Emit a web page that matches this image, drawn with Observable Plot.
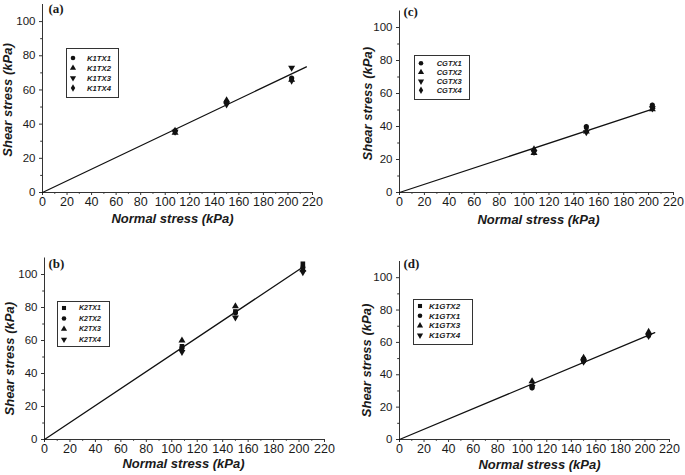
<!DOCTYPE html>
<html><head><meta charset="utf-8">
<script src="https://cdn.jsdelivr.net/npm/d3@7"></script>
<script src="https://cdn.jsdelivr.net/npm/@observablehq/plot@0.6"></script>
<style>
body{margin:0;background:#fff;}
#wrap{position:relative;width:685px;height:475px;overflow:hidden;background:#fff;}
.panel{position:absolute;}
.legend{position:absolute;}
</style></head><body><div id="wrap"></div><script>
// ---- data ----
const normalStress = [108, 150, 203];
const xTicks = [0, 20, 40, 60, 80, 100, 120, 140, 160, 180, 200, 220];
const xMinor = [10, 30, 50, 70, 90, 110, 130, 150, 170, 190, 210];
const yTicks = [0, 20, 40, 60, 80, 100];
const yMinor = [10, 30, 50, 70, 90];

const seriesA = ["K1TX1", "K1TX2", "K1TX3", "K1TX4"];
const symbolsA = ["circle", "triangle", "triangleDown", "diamond"];
const valuesA = [[36, 53, 67], [35, 54, 66], [35.5, 51.5, 73], [36, 52.5, 65.5]];
const fitXA = [0, 215];
const fitYA = [0, 73.5];

const seriesB = ["K2TX1", "K2TX2", "K2TX3", "K2TX4"];
const symbolsB = ["square", "circle", "triangle", "triangleDown"];
const valuesB = [[56.5, 77.6, 106.5], [55.5, 76.8, 104.4], [60, 80.8, 103], [53, 74, 101.4]];
const fitXB = [0, 204];
const fitYB = [0, 105];

const seriesC = ["CGTX1", "CGTX2", "CGTX3", "CGTX4"];
const symbolsC = ["circle", "triangle", "triangleDown", "diamond"];
const valuesC = [[25.5, 40, 53], [24, 37, 50.5], [24.5, 36.5, 51], [26, 39, 52]];
const fitXC = [0, 205];
const fitYC = [0, 51];

const seriesD = ["K1GTX2", "K1GTX1", "K1GTX3", "K1GTX4"];
const symbolsD = ["square", "circle", "triangle", "triangleDown"];
const valuesD = [[33, 49.5, 64.5], [32, 48.5, 65], [36, 50.5, 66.5], [32.5, 48, 64]];
const fitXD = [0, 208];
const fitYD = [0, 66];

const xTitle = "Normal stress (kPa)";
const yTitle = "Shear stress (kPa)";

// ---- symbols ----
const sqrt3 = Math.sqrt(3);
const triangleDown = {draw(ctx, size) {
  const y = -Math.sqrt(size / (sqrt3 * 3));
  ctx.moveTo(0, -y * 2);
  ctx.lineTo(-sqrt3 * y, y);
  ctx.lineTo(sqrt3 * y, y);
  ctx.closePath();
}};
const symbolMap = {
  circle: d3.symbolCircle, triangle: d3.symbolTriangle, triangleDown: triangleDown,
  diamond: d3.symbolDiamond, square: d3.symbolSquare
};

// ---- layout ----
const panels = [
  {letter: "(a)", left: 0, top: 0, width: 340, height: 235, mt: 4, mr: 28, mb: 43, ml: 42,
   series: seriesA, syms: symbolsA, values: valuesA, fitX: fitXA, fitY: fitYA,
   xt: [-5, 30], yt: [-30.5, 1.5], lt: [6, 8],
   lg: {left: 66, top: 48, w: 53, h: 50, sx: 7, tx: 21, y0: 10, dy: 10, fs: 7.7}},
  {letter: "(c)", left: 340, top: 0, width: 345, height: 235, mt: 10.5, mr: 12, mb: 43, ml: 59,
   series: seriesC, syms: symbolsC, values: valuesC, fitX: fitXC, fitY: fitYC,
   xt: [2, 31], yt: [-27.5, 2], lt: [4, 4.5],
   lg: {left: 414, top: 55, w: 56, h: 45, sx: 7, tx: 22.7, y0: 8.3, dy: 9, fs: 7.5}},
  {letter: "(b)", left: 0, top: 235, width: 340, height: 240, mt: 22.5, mr: 16, mb: 36, ml: 44,
   series: seriesB, syms: symbolsB, values: valuesB, fitX: fitXB, fitY: fitYB,
   xt: [-1, 28], yt: [-31, 10], lt: [4, 9.5],
   lg: {left: 57, top: 301, w: 53, h: 46, sx: 7, tx: 22, y0: 7, dy: 10.5, fs: 7}},
  {letter: "(d)", left: 340, top: 235, width: 345, height: 240, mt: 26, mr: 16, mb: 36, ml: 59,
   series: seriesD, syms: symbolsD, values: valuesD, fitX: fitXD, fitY: fitYD,
   xt: [5, 29], yt: [-28.5, 10], lt: [4, 6],
   lg: {left: 413, top: 299, w: 60, h: 46, sx: 7, tx: 16, y0: 7, dy: 9.8, fs: 8}}
];

const wrap = document.getElementById("wrap");
const ink = "#1a1a1a";
const sans = "'Liberation Sans', Arial, sans-serif";

for (const p of panels) {
  const marks = [
    Plot.ruleY([0], {stroke: "#333", strokeWidth: 1}),
    Plot.ruleX([0], {stroke: "#333", strokeWidth: 1}),
    Plot.axisX({ticks: xTicks, tickSize: 3, tickPadding: 2, tickFormat: d => d, label: null, fontSize: 12.5, stroke: "#333"}),
    Plot.axisX({ticks: xMinor, tickSize: 1.8, tickFormat: () => "", label: null, stroke: "#333"}),
    Plot.axisY({ticks: yTicks, tickSize: 3, tickPadding: 4, tickFormat: d => d, label: null, fontSize: 11.5, stroke: "#333"}),
    Plot.axisY({ticks: yMinor, tickSize: 1.8, tickFormat: () => "", label: null, stroke: "#333"}),
    Plot.line(p.fitY, {x: p.fitX, y: p.fitY, stroke: "#111", strokeWidth: 1.3}),
    ...p.values.map((vals, i) => Plot.dot(vals, {
      x: normalStress, y: vals, symbol: symbolMap[p.syms[i]], r: 2.6, fill: "#111", stroke: "none"
    })),
    Plot.text([xTitle], {frameAnchor: "bottom", textAnchor: "middle", lineAnchor: "bottom",
      dx: p.xt[0], dy: p.xt[1], fontSize: 13, fontWeight: "bold", fontStyle: "italic", fill: ink}),
    Plot.text([yTitle], {frameAnchor: "left", textAnchor: "middle", lineAnchor: "bottom", rotate: -90,
      dx: p.yt[0], dy: p.yt[1], fontSize: 13, fontWeight: "bold", fontStyle: "italic", fill: ink}),
    Plot.text([p.letter], {frameAnchor: "top-left", textAnchor: "start", lineAnchor: "bottom",
      dx: p.lt[0], dy: p.lt[1], fontSize: 13, fontWeight: "bold", fontFamily: "'Liberation Serif', 'Times New Roman', serif", fill: ink})
  ];
  const chart = Plot.plot({
    width: p.width, height: p.height,
    marginTop: p.mt, marginRight: p.mr, marginBottom: p.mb, marginLeft: p.ml,
    x: {domain: [0, 220]}, y: {domain: [0, 110]},
    style: {fontFamily: sans, fontSize: "11px", color: ink, background: "transparent", overflow: "visible"},
    marks
  });
  const div = document.createElement("div");
  div.className = "panel";
  div.style.left = p.left + "px"; div.style.top = p.top + "px";
  div.appendChild(chart);
  wrap.appendChild(div);

  // legend
  const g = p.lg;
  const svg = d3.create("svg").attr("class", "legend")
    .attr("width", g.w + 1).attr("height", g.h + 1)
    .style("left", g.left + "px").style("top", g.top + "px");
  svg.append("rect").attr("x", 0.5).attr("y", 0.5).attr("width", g.w - 1).attr("height", g.h - 1)
    .attr("fill", "#fff").attr("stroke", "#333").attr("stroke-width", 1);
  p.series.forEach((name, i) => {
    const cy = g.y0 + i * g.dy;
    svg.append("path").attr("transform", `translate(${g.sx},${cy})`)
      .attr("d", d3.symbol(symbolMap[p.syms[i]], Math.PI * 2.3 * 2.3)()).attr("fill", "#111");
    svg.append("text").attr("x", g.tx).attr("y", cy).attr("dy", "0.35em")
      .attr("font-family", sans).attr("font-size", g.fs).attr("font-weight", "bold")
      .attr("font-style", "italic").attr("fill", ink).text(name);
  });
  wrap.appendChild(svg.node());
}
</script></body></html>
